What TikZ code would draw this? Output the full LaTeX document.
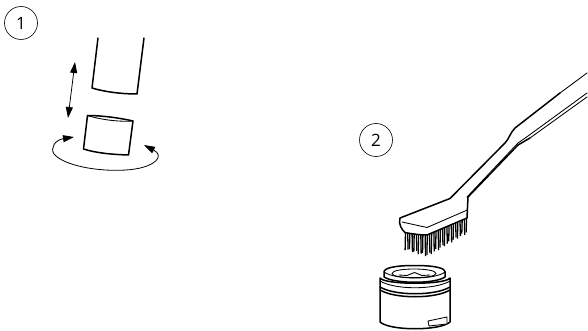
\documentclass[tikz,border=0pt]{standalone}
\usepackage{fontspec}
\setmainfont{Open Sans}
\usetikzlibrary{arrows.meta}
\tikzset{
  px/.style={x=1pt,y=-1pt},
  ink/.style={line width=1.5pt,line join=round,line cap=round,black},
  thin ink/.style={line width=.85pt,line join=round,line cap=round,black},
  badge/.style={circle,draw,line width=.6pt,minimum size=33pt,inner sep=0pt,font=\fontsize{17}{17}\selectfont},
  motion/.style={line width=.8pt,{Triangle[length=11pt,width=7pt]}-{Triangle[length=11pt,width=7pt]}}
}
\begin{document}
\begin{tikzpicture}[px]
\useasboundingbox (0,0) rectangle (588,331);
\node[badge] (n1) at (21,23) {1};
\node[badge] (n2) at (376,140) {2};
% tube
\draw[ink] (98,38) -- (92,88) .. controls (105,92) and (122,94) .. (137,94) -- (144,38);
% ring
\draw[ink,fill=white] (87.5,115.5) .. controls (102,115.5) and (120,118) .. (133,121) -- (128.5,155) .. controls (112,154.5) and (96,153) .. (83.5,149) -- cycle;
\draw[thin ink] (87.5,115.5) .. controls (102,120) and (120,122) .. (133,121);
% arrows
\coordinate (a1) at (75,62); \coordinate (a2) at (68,118);
\draw[motion] (a1) -- (a2);
\coordinate (r1) at (74,137); \coordinate (r2) at (144,145);
\draw[motion] (r1) .. controls (55,140) and (50,148) .. (54,154) .. controls (66,168) and (110,173) .. (135,169) .. controls (155,166) and (165,156) .. (r2);
% bristles
\foreach \i in {0,...,28}{
  \pgfmathsetmacro{\xa}{405.5+\i*2.18}
  \pgfmathsetmacro{\ya}{\xa<427 ? 232 : 234-(\xa-427)*.4}
  \pgfmathsetmacro{\yb}{(\xa<427 ? 250+(\xa-405)*.3 : 256.5-(\xa-427)*.58)-mod(\i,3)*1.2}
  \pgfmathsetmacro{\xb}{\xa-.4+mod(\i,2)*.8}
  \draw[line width=1.3pt] (\xa,\ya) -- (\xb,\yb);
}
% handle
\fill[white] (400,218) -- (450,198.5) -- (505,143) -- (515,128) -- (587,73) -- (587,97) -- (518,145) -- (468,197) -- (467,218) -- (427,235) -- (405,232.5) -- cycle;
\draw[ink] (518,145) -- (468,197) -- (467,218) -- (427,235) .. controls (420,235) and (412,234) .. (405,232.5) .. controls (402,230) and (398,224) .. (400,218) -- (450,198.5) -- (505,143) .. controls (509,139) and (510,133) .. (515,128) -- (560,93);
\draw[thin ink] (560,93) -- (587,73);
\draw[thin ink] (530,138) -- (587,97);
\draw[ink] (518,145) -- (530,138);
\draw[thin ink] (467,197) -- (518,143) -- (528,136) -- (587,93);
\draw[thin ink] (402,222) -- (427,227.5) -- (465,211) -- (467,210);
% aerator
\draw[ink,fill=white] (380,287) -- (380,322) .. controls (390,331) and (440,331) .. (450,322) -- (450,287);
\draw[ink] (380,290) .. controls (395,299) and (435,299) .. (450,290);
\draw[ink,fill=white] (380,278) -- (380,287) .. controls (395,296) and (435,296) .. (450,287) -- (450,278) .. controls (445,285) and (385,285) .. (380,278) -- cycle;
\draw[thin ink] (380,281) .. controls (395,290) and (435,290) .. (450,281);
\draw[ink,fill=white] (414.5,265.5) .. controls (395,265.5) and (384,268) .. (384,272) -- (384,277) .. controls (395,284) and (435,284) .. (445,277) -- (445,272) .. controls (445,268) and (435,265.5) .. (414.5,265.5) -- cycle;
\draw[thin ink] (384,272) .. controls (395,280) and (435,280) .. (445,272);
\draw[thin ink] (392,273.5) .. controls (392,267.5) and (436,267.5) .. (436,273.5) .. controls (436,279) and (392,279) .. (392,273.5) -- cycle;
\draw[thin ink] (399,275) -- (407,275.5) -- (414.5,272.5) -- (422,275.5) -- (430,275);
\draw[thin ink,fill=white] (428,321) -- (429,326) -- (447,324) -- (447,317) -- cycle;
\end{tikzpicture}
\end{document}
